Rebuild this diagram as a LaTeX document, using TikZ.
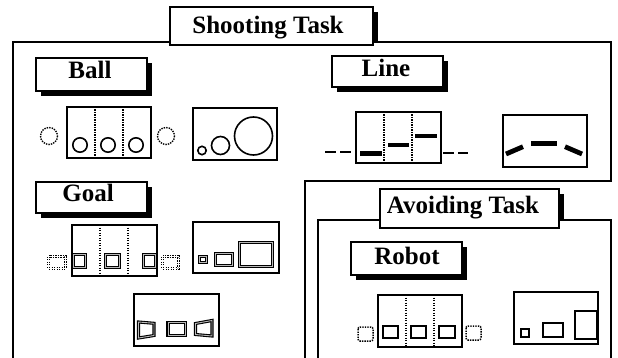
\documentclass[tikz,border=0pt]{standalone}
\usepackage{fontspec}
\setmainfont{Liberation Serif}
\usetikzlibrary{shadows}
\pgfdeclarelayer{bg}
\pgfdeclarelayer{frm}
\pgfsetlayers{bg,frm,main}
\begin{document}
\begin{tikzpicture}[x=1pt,y=-1pt,
  frame/.style={line width=1.9pt},
  lbl/.style={draw, fill=white, line width=1.7pt, inner sep=0pt},
  shd/.style={drop shadow={shadow xshift=5pt, shadow yshift=-5pt, fill=black, opacity=1}},
  ttl/.style={anchor=base, inner sep=0pt, font=\fontsize{25}{30}\selectfont\bfseries},
  panel/.style={line width=1.9pt},
  vdot/.style={line width=1.5pt, dash pattern=on 1.4pt off 1.1pt},
  ballc/.style={line width=1.6pt},
  dball/.style={line width=1.4pt, dash pattern=on 1.4pt off 1.1pt},
  goalr/.style={line width=1.1pt, double=gray!55, double distance=0.9pt},
  dgoal/.style={line width=1pt, double=white, double distance=0.8pt, dash pattern=on 1.4pt off 1.1pt},
  bar/.style={line width=4.8pt},
  dsh/.style={line width=1.4pt, dash pattern=on 11pt off 4pt},
  sq/.style={line width=1.7pt},
  dsq/.style={line width=1.5pt, dash pattern=on 1.4pt off 1.1pt, rounded corners=2pt}]
\useasboundingbox (0,0) rectangle (618,358);

% ---------- frames and title labels ----------
\begin{pgfonlayer}{bg}
  \fill (175,12) rectangle (378,50);
  \fill (385,194) rectangle (564,233);
\end{pgfonlayer}
\begin{pgfonlayer}{frm}
  \filldraw[frame, fill=white] (13,362) -- (13,42) -- (611,42) -- (611,181) -- (305,181) -- (305,362);
  \filldraw[frame, fill=white] (318,362) -- (318,220) -- (611,220) -- (611,362);
\end{pgfonlayer}

\node[lbl, minimum width=203pt, minimum height=38pt] (shoot) at (271.5,26) {};
\node[ttl] (shoott) at (268,34) {Shooting Task};

\node[lbl, minimum width=179pt, minimum height=39pt] (avoid) at (469.5,208.5) {};
\node[ttl] (avoidt) at (463,213) {Avoiding Task};

% ---------- sub labels ----------
\node[lbl, shd, minimum width=111pt, minimum height=33pt] (ball) at (91.5,74.5) {};
\node[ttl] (ballt) at (90,79) {Ball};
\node[lbl, shd, minimum width=111pt, minimum height=31pt] (line) at (387.5,71.5) {};
\node[ttl] (linet) at (386,77) {Line};
\node[lbl, shd, minimum width=111pt, minimum height=31pt] (goal) at (91.5,197.5) {};
\node[ttl] (goalt) at (88,201) {Goal};
\node[lbl, shd, minimum width=111pt, minimum height=33pt] (robot) at (406.5,258.5) {};
\node[ttl] (robott) at (407,264) {Robot};

% ---------- Ball panels ----------
\draw[panel] (67,107) rectangle (151,158);
\draw[vdot] (95,107) -- (95,158);
\draw[vdot] (123,107) -- (123,158);
\draw[ballc] (80,145) circle[radius=7.2];
\draw[ballc] (108,145) circle[radius=7.2];
\draw[ballc] (136,145) circle[radius=7.2];
\draw[dball] (49,136) circle[radius=8.5];
\draw[dball] (166,136) circle[radius=8.5];

\draw[panel] (193,108) rectangle (277,160);
\draw[ballc] (202,150.5) circle[radius=4.2];
\draw[ballc] (220.5,145.5) circle[radius=9];
\draw[ballc] (253.5,136) circle[radius=19];

% ---------- Line panels ----------
\draw[panel] (356,112) rectangle (441,163);
\draw[vdot] (384,112) -- (384,163);
\draw[vdot] (412,112) -- (412,163);
\draw[bar] (360,153.3) -- (382,153.3);
\draw[bar] (388,145) -- (409,145);
\draw[bar] (415,136) -- (437,136);
\draw[dsh] (325,152) -- (352,152);
\draw[dsh] (443,153) -- (468,153);

\draw[panel] (503,115) rectangle (587,167);
\draw[bar] (506,154) -- (523,146.7);
\draw[bar] (531,143.3) -- (557,143.3);
\draw[bar] (565,146.7) -- (582,154);

% ---------- Goal panels ----------
\draw[panel] (72,225) rectangle (157,276);
\draw[vdot] (100,225) -- (100,276);
\draw[vdot] (128,225) -- (128,276);
\draw[goalr] (73.5,254.5) rectangle (85.5,267.5);
\draw[goalr] (105.5,254.5) rectangle (119.5,267.5);
\draw[goalr] (143.5,254.5) rectangle (155.5,267.5);
\draw[dgoal] (48.5,256.5) rectangle (65.5,268.5);
\draw[dgoal] (162.5,256.5) rectangle (178.5,268.5);

\draw[panel] (193,222) rectangle (279,273);
\draw[goalr] (199.5,256.5) rectangle (206.5,262.5);
\draw[goalr] (215.5,253.5) rectangle (232.5,265.5);
\draw[goalr] (239.5,242.5) rectangle (272.5,266.5);

\draw[panel] (134,294) rectangle (219,346);
\draw[goalr] (138.5,322) -- (154,323.3) -- (154,335.5) -- (138.5,338) -- cycle;
\draw[goalr] (168,322.3) rectangle (185.5,335.5);
\draw[goalr] (195.5,323.5) -- (212,320.5) -- (212,336) -- (195.5,334.5) -- cycle;

% ---------- Robot panels ----------
\draw[panel] (378,295) rectangle (462,347);
\draw[vdot] (406,295) -- (406,347);
\draw[vdot] (434,295) -- (434,347);
\draw[sq] (383,326) rectangle (398,338);
\draw[sq] (411,326) rectangle (426,338);
\draw[sq] (439,326) rectangle (455,338);
\draw[dsq] (358,327) rectangle (373,341);
\draw[dsq] (466,326) rectangle (481,340);

\draw[panel] (514,292) rectangle (598,344);
\draw[sq] (520.7,328.7) rectangle (529.3,337.3);
\draw[sq] (542.7,322.7) rectangle (563.3,337.3);
\draw[sq] (574.7,310.7) rectangle (597,339.3);
\end{tikzpicture}
\end{document}
